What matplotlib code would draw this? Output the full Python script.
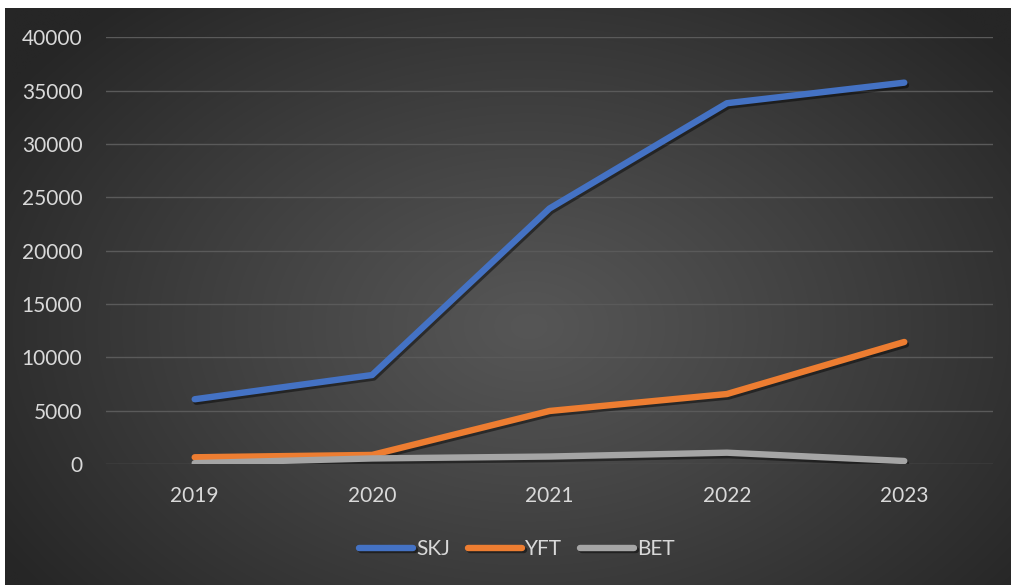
import numpy as np
import matplotlib
matplotlib.use("Agg")
import matplotlib.pyplot as plt
import matplotlib.patheffects as pe

# Catch by species (tonnes)
years = ["2019", "2020", "2021", "2022", "2023"]
skj = [6070, 8340, 23950, 33820, 35750]
yft = [630, 850, 4970, 6560, 11440]
bet = [80, 520, 700, 1060, 280]
series_names = ["SKJ", "YFT", "BET"]
colors = ["#4472C4", "#ED7D31", "#A5A5A5"]
yticks = [0, 5000, 10000, 15000, 20000, 25000, 30000, 35000, 40000]

plt.rcParams["font.family"] = ["Lato", "DejaVu Sans"]
text_color = "#D9D9D9"

W, H = 1011, 585
fig = plt.figure(figsize=(W / 100, H / 100), dpi=100)
fig.patch.set_facecolor("white")

# radial dark gradient backdrop
bg = fig.add_axes([5 / W, 0, (W - 5) / W, (H - 8) / H])
bg.axis("off")
ny, nx = 300, 520
yy, xx = np.mgrid[0:ny, 0:nx]
cx, cy = nx * 0.52, ny * 0.55
r = np.sqrt(((xx - cx) / (nx * 0.62)) ** 2 + ((yy - cy) / (ny * 0.75)) ** 2)
r = np.clip(r, 0, 1)
inner, outer = 0x56 / 255, 0x26 / 255
val = inner + (outer - inner) * r ** 1.1
img = np.dstack([val, val, val])
bg.imshow(img, aspect="auto", extent=[0, 1, 0, 1], interpolation="bilinear")
bg.set_xlim(0, 1)
bg.set_ylim(0, 1)

left, right = 106, 993
top, bottom = 37.3, 464
ax = fig.add_axes([left / W, 1 - bottom / H, (right - left) / W, (bottom - top) / H])
ax.patch.set_alpha(0)

x = np.arange(len(years))
shadow = [pe.SimpleLineShadow(offset=(1.2, -1.8), shadow_color="black", alpha=0.45),
          pe.Normal()]
for name, vals, c in zip(series_names, [skj, yft, bet], colors):
    ax.plot(x, vals, color=c, lw=4.6, solid_capstyle="round",
            solid_joinstyle="round", label=name, path_effects=shadow)

ax.set_xlim(-0.5, len(years) - 0.5)
ax.set_ylim(0, 40000)
ax.set_yticks(yticks)
ax.set_yticklabels([str(v) for v in yticks])
ax.set_xticks(x)
ax.set_xticklabels(years)
ax.yaxis.grid(True, color="#5A5A5A", lw=1.0)
ax.set_axisbelow(True)
for s in ax.spines.values():
    s.set_visible(False)
ax.tick_params(axis="y", length=0, pad=17, labelsize=15, labelcolor=text_color)
ax.tick_params(axis="x", length=0, pad=16, labelsize=15, labelcolor=text_color)

leg = fig.legend(loc="center", bbox_to_anchor=(517 / W, 1 - 549 / H), ncol=3,
                 frameon=False, fontsize=15, handlelength=2.6, handletextpad=0.15,
                 columnspacing=0.85, labelcolor=text_color)
for line in leg.get_lines():
    line.set_linewidth(4.6)
    line.set_solid_capstyle("round")

fig.savefig("out.png", dpi=100)
